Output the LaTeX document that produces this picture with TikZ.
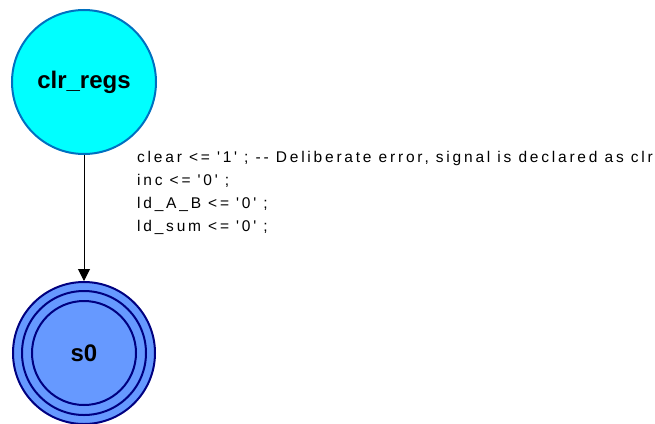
\documentclass[tikz,border=0pt]{standalone}
\usepackage{fontspec}
\setmainfont{Liberation Sans}
\newfontfamily\actionfont[LetterSpace=18]{Liberation Sans}
\usetikzlibrary{arrows.meta}
\definecolor{stateCyan}{RGB}{0,255,255}
\definecolor{stateEdge}{RGB}{0,112,192}
\definecolor{finalFill}{RGB}{102,153,255}
\definecolor{finalEdge}{RGB}{0,0,128}
\tikzset{
  labelfont/.style={font=\bfseries\fontsize{24}{28}\selectfont},
  state/.style={circle, fill=stateCyan, draw=stateEdge, line width=2pt,
    minimum size=144pt, inner sep=0pt, labelfont},
  finalstate/.style={circle, fill=finalFill, draw=finalEdge, line width=2pt,
    minimum size=142pt, inner sep=0pt},
  ring/.style={circle, draw=finalEdge, line width=2pt, inner sep=0pt},
  transition/.style={-{Triangle[length=12pt,width=12pt]}, line width=1pt, black},
  action/.style={anchor=north west, align=left, inner sep=0pt,
    font=\actionfont\fontsize{15.5}{23}\selectfont}
}
\begin{document}
\begin{tikzpicture}[x=1pt,y=-1pt]
  \useasboundingbox (0,0) rectangle (655,423);
  % initial state
  \node[state] (clr) at (84,82) {clr\_regs};
  % final state drawn as three concentric rings
  \node[finalstate] (s0) at (84,353) {};
  \node[ring, minimum size=124pt] (s0mid) at (s0) {};
  \node[ring, minimum size=104pt] (s0in) at (s0) {};
  \node[labelfont] (s0label) at (s0) {s0};
  \draw[transition] (clr) -- (s0);
  % state actions of clr_regs
  \node[action] (act) at (137,151.5) {clear <= '1' ; -{}- Deliberate error, signal is declared as clr\\
inc <= '0' ;\\
ld\_A\_B <= '0' ;\\
ld\_sum <= '0' ;};
\end{tikzpicture}
\end{document}
